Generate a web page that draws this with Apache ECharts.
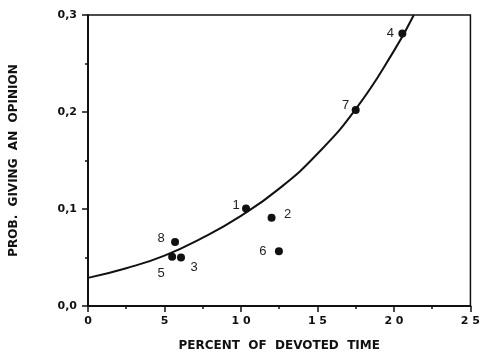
<!DOCTYPE html>
<html>
<head>
<meta charset="utf-8">
<script src="https://cdn.jsdelivr.net/npm/echarts@6/dist/echarts.min.js"></script>
<style>html,body{margin:0;padding:0;background:#fff}#c{width:483px;height:357px}</style>
</head>
<body>
<div id="c"></div>
<script>
// Data
const pointIds = ['1', '2', '3', '4', '5', '6', '7', '8'];
const pointX = [10.33, 12.0, 6.08, 20.55, 5.5, 12.48, 17.5, 5.69];
const pointY = [0.1006, 0.0909, 0.050, 0.281, 0.0507, 0.0564, 0.202, 0.066];
const curveX = [0, 2.5, 5, 7.5, 10, 12.5, 15, 17.5, 20, 21.3];
const curveY = [0.029, 0.039, 0.052, 0.0705, 0.093, 0.121, 0.157, 0.203, 0.263, 0.30];
const xTickValues = [0, 5, 10, 15, 20, 25];
const xTickLabels = ['0', '5', '1 0', '1 5', '2 0', '2 5'];
const yTickValues = [0, 0.1, 0.2, 0.3];
const yTickLabels = ['0,0', '0,1', '0,2', '0,3'];

// Label offsets (style only)
const labelOffsets = {
  '1': [-10, -3], '2': [16, -3], '3': [13, 10], '4': [-12, 0],
  '5': [-11, 17], '6': [-16, 0], '7': [-10, -5], '8': [-14, -4]
};

const ink = '#111';
const chart = echarts.init(document.getElementById('c'), null, {renderer: 'canvas'});

const scatterData = pointIds.map((id, i) => ({
  value: [pointX[i], pointY[i]],
  name: id,
  label: {offset: labelOffsets[id]}
}));

chart.setOption({
  backgroundColor: '#fff',
  animation: false,
  grid: {left: 87, right: 7, top: 15, bottom: 47, show: true, borderColor: ink, borderWidth: 1.5, containLabel: false},
  xAxis: {
    type: 'value', min: 0, max: 25, interval: 5,
    name: 'PERCENT  OF  DEVOTED  TIME', nameLocation: 'middle', nameGap: 34,
    nameTextStyle: {fontFamily: 'DejaVu Sans', fontWeight: 'bold', fontSize: 12, color: ink},
    axisLine: {show: true, lineStyle: {color: ink, width: 2}},
    axisTick: {show: true, length: 6, inside: false, lineStyle: {color: ink, width: 1.5}},
    minorTick: {show: true, splitNumber: 2, length: 3, lineStyle: {color: ink, width: 1.5}},
    splitLine: {show: false},
    axisLabel: {
      margin: 10, fontFamily: 'DejaVu Sans', fontWeight: 'bold', fontSize: 11, color: ink,
      formatter: v => { const i = xTickValues.indexOf(v); return i >= 0 ? xTickLabels[i] : ''; }
    }
  },
  yAxis: {
    type: 'value', min: 0, max: 0.3, interval: 0.1,
    name: 'PROB.  GIVING  AN  OPINION', nameLocation: 'middle', nameGap: 68,
    nameTextStyle: {fontFamily: 'DejaVu Sans', fontWeight: 'bold', fontSize: 12, color: ink},
    axisLine: {show: true, lineStyle: {color: ink, width: 2}},
    axisTick: {show: true, length: 6, inside: false, lineStyle: {color: ink, width: 1.5}},
    minorTick: {show: true, splitNumber: 2, length: 3, lineStyle: {color: ink, width: 1.5}},
    splitLine: {show: false},
    axisLabel: {
      margin: 11, fontFamily: 'DejaVu Sans', fontWeight: 'bold', fontSize: 11, color: ink,
      formatter: v => { const i = yTickValues.findIndex(t => Math.abs(t - v) < 1e-9); return i >= 0 ? yTickLabels[i] : ''; }
    }
  },
  series: [
    {
      type: 'line', smooth: true, showSymbol: false, clip: true,
      data: curveX.map((x, i) => [x, curveY[i]]),
      lineStyle: {color: ink, width: 2}, z: 2
    },
    {
      type: 'scatter', symbol: 'circle', symbolSize: 8,
      itemStyle: {color: ink, opacity: 1},
      data: scatterData,
      label: {
        show: true, position: 'inside', formatter: p => p.name,
        fontFamily: 'Liberation Sans', fontSize: 13, color: '#222'
      },
      z: 3
    }
  ]
});
</script>
</body>
</html>
